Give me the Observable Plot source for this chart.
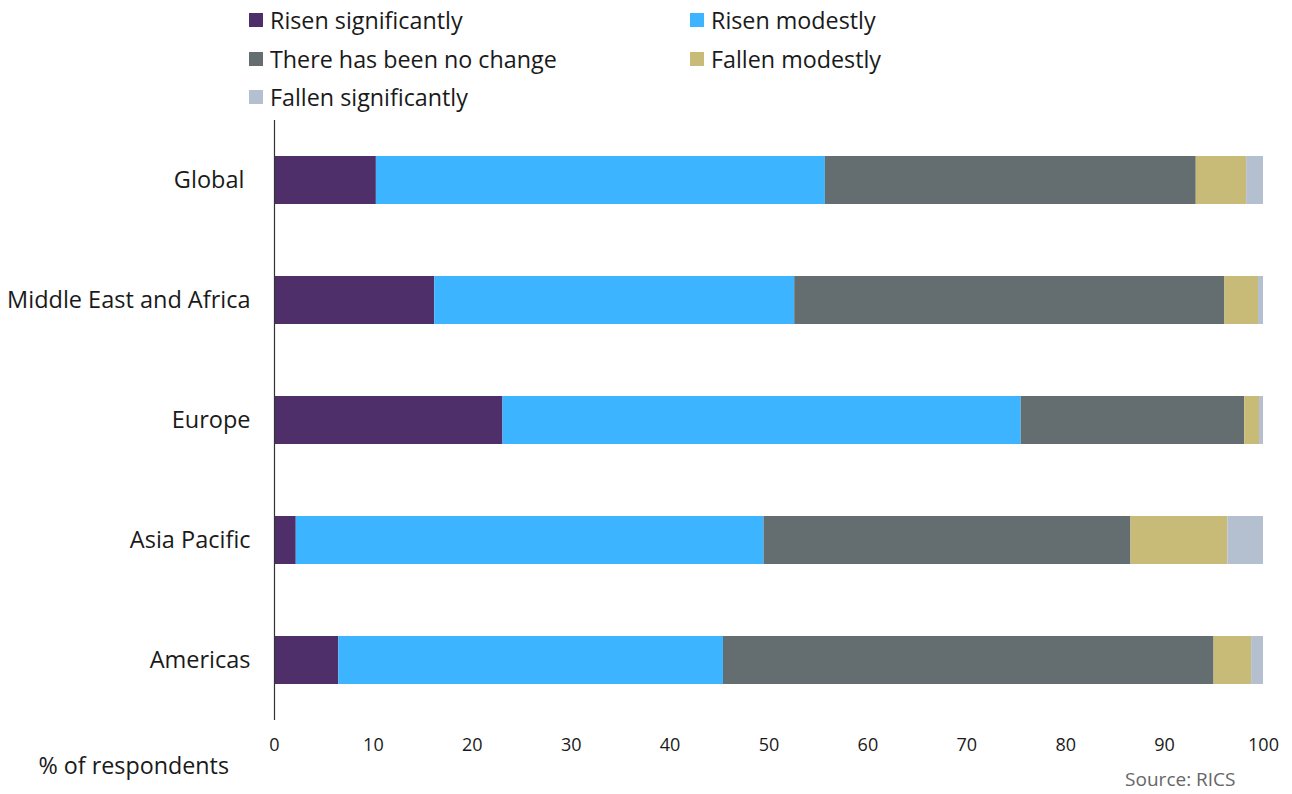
<!DOCTYPE html>
<html>
<head>
<meta charset="utf-8">
<script src="https://cdn.jsdelivr.net/npm/d3@7"></script>
<script src="https://cdn.jsdelivr.net/npm/@observablehq/plot@0.6"></script>
<style>
  body { margin: 0; background: #fff; font-family: "Open Sans", sans-serif; }
  #legend { position: relative; height: 118px; width: 1292px; }
  .item { position: absolute; display: flex; align-items: center; font-size: 23.3px; color: #1a1a1a; height: 28px; }
  .sw { width: 14px; height: 14px; margin-right: 7px; }
</style>
</head>
<body>
<div id="legend"></div>
<div id="chart"></div>
<script>
const regions = ["Global", "Middle East and Africa", "Europe", "Asia Pacific", "Americas"];
const categories = ["Risen significantly", "Risen modestly", "There has been no change", "Fallen modestly", "Fallen significantly"];
const colors = ["#4f2f69", "#3db4ff", "#646d6f", "#c8bb77", "#b4bfcf"];
const risenSignificantly = [10.3, 16.2, 23.1, 2.2, 6.5];
const risenModestly      = [45.4, 36.4, 52.4, 47.3, 38.9];
const noChange           = [37.5, 43.5, 22.6, 37.1, 49.6];
const fallenModestly     = [5.1, 3.4, 1.5, 9.8, 3.8];
const fallenSignificantly= [1.7, 0.5, 0.4, 3.6, 1.2];
const series = [risenSignificantly, risenModestly, noChange, fallenModestly, fallenSignificantly];
const xTicks = [0, 10, 20, 30, 40, 50, 60, 70, 80, 90, 100];

const data = [];
regions.forEach((r, i) => categories.forEach((c, j) => data.push({region: r, category: c, value: series[j][i]})));

// legend
const legend = document.getElementById("legend");
const pos = [[249, 20], [690, 20], [249, 59], [690, 59], [249, 97]];
categories.forEach((c, j) => {
  const d = document.createElement("div");
  d.className = "item";
  d.style.left = pos[j][0] + "px";
  d.style.top = (pos[j][1] - 14) + "px";
  d.innerHTML = `<span class="sw" style="background:${colors[j]}"></span><span>${c}</span>`;
  legend.appendChild(d);
});

const chart = Plot.plot({
  width: 1292,
  height: 676,
  marginLeft: 274,
  marginRight: 29,
  marginTop: 2,
  marginBottom: 74,
  style: {fontFamily: "Open Sans, sans-serif", background: "#fff", color: "#1a1a1a"},
  x: {domain: [0, 100], ticks: xTicks, label: null},
  y: {domain: regions, label: null, paddingInner: 0.6, paddingOuter: 0.3},
  color: {domain: categories, range: colors},
  marks: [
    Plot.barX(data, {x: "value", y: "region", fill: "category"}),
    Plot.axisX({ticks: xTicks, tickSize: 0, tickPadding: 18, fontSize: 18, label: null, stroke: "none"}),
    Plot.axisY({tickSize: 0, tickPadding: 24, fontSize: 23.5, label: null, tickFormat: d => d === "Global" ? "Global\u00a0" : d}),
    Plot.ruleX([0], {stroke: "#333", strokeWidth: 1.2}),
    Plot.text(["% of respondents"], {frameAnchor: "bottom-left", dx: -236, dy: 53, fontSize: 23.3, textAnchor: "start", fill: "#1a1a1a"}),
    Plot.text(["Source: RICS"], {frameAnchor: "bottom-right", dx: -28, dy: 65, fontSize: 19, textAnchor: "end", fill: "#666"})
  ]
});
document.getElementById("chart").appendChild(chart);
</script>
</body>
</html>
